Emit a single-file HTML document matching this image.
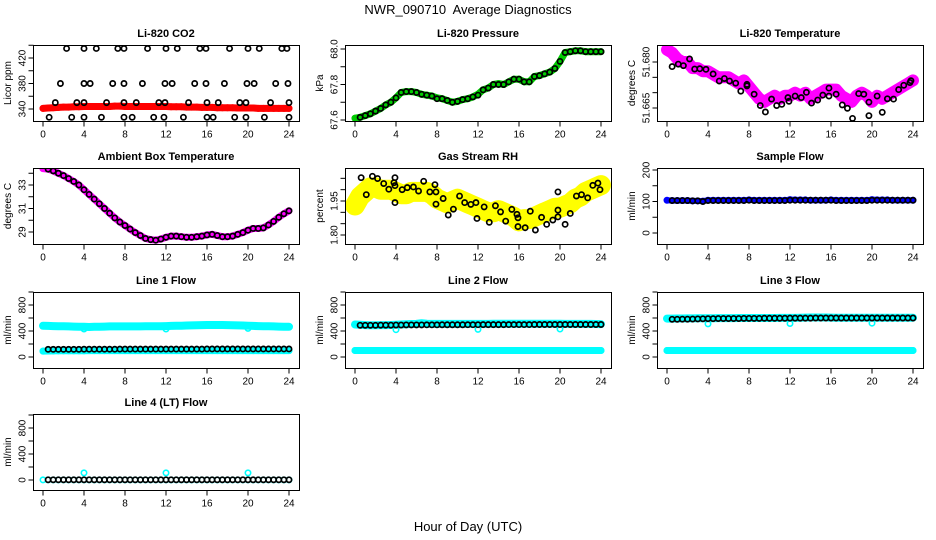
<!DOCTYPE html>
<html><head><meta charset="utf-8"><style>
html,body{margin:0;padding:0;background:#fff;}
svg{display:block;font-family:"Liberation Sans",sans-serif;}
</style></head><body>
<svg id="chart" width="936" height="540" viewBox="0 0 936 540">
<text x="468" y="14" text-anchor="middle" font-size="13" xml:space="preserve">NWR_090710  Average Diagnostics</text>
<text x="468" y="531" text-anchor="middle" font-size="13">Hour of Day (UTC)</text>
</svg>
<script>
const hoursC = [0,0.5,1,1.5,2,2.5,3,3.5,4,4.5,5,5.5,6,6.5,7,7.5,8,8.5,9,9.5,10,10.5,11,11.5,12,12.5,13,13.5,14,14.5,15,15.5,16,16.5,17,17.5,18,18.5,19,19.5,20,20.5,21,21.5,22,22.5,23,23.5,24];
const hoursB = [0.5,1,1.5,2,2.5,3,3.5,4,4.5,5,5.5,6,6.5,7,7.5,8,8.5,9,9.5,10,10.5,11,11.5,12,12.5,13,13.5,14,14.5,15,15.5,16,16.5,17,17.5,18,18.5,19,19.5,20,20.5,21,21.5,22,22.5,23,23.5,24];
const dipHours = [4,12,20];
const xTicks = [0,4,8,12,16,20,24];

const co2Red = [341,341.5,342,342.5,343,343,343.5,343.5,344,344,344,344,344,344,344.5,344.5,344,344,344,344,344,344,344,344,344,343.5,343.5,343.5,343,343,343,342.5,342.5,342.5,342,342,342,342,341.5,341.5,341.5,341.5,341,341,341,341,341,341,341];
const co2BlackHours = [2.3,4,5.2,7.3,7.9,10.2,12,13.1,15.3,15.9,18.2,20,21.1,23.3,23.8,1.7,4,4.6,6.8,7.9,9.7,11.9,12.6,14.8,15.9,17.7,19.9,20.6,22.7,23.9,1.2,3.3,4,6.2,7.9,9.1,11.3,11.9,14.2,16,17.1,19.2,19.8,22.2,24,0.6,2.8,4,5.7,7.9,8.7,10.8,11.8,13.7,16,16.6,18.7,19.8,21.6,24];
const co2BlackValues = [435,435,435,435,435,435,435,435,435,435,435,435,435,435,435,380,380,380,380,380,380,380,380,380,380,380,380,380,380,380,350,350,350,350,350,350,350,350,350,350,350,350,350,350,350,327,327,327,327,327,327,327,327,327,327,327,327,327,327,327];

const presGreen = [67.61,67.615,67.625,67.635,67.65,67.665,67.685,67.70,67.725,67.755,67.76,67.76,67.755,67.745,67.74,67.735,67.725,67.72,67.71,67.70,67.705,67.715,67.72,67.73,67.745,67.77,67.78,67.80,67.805,67.80,67.815,67.83,67.83,67.815,67.815,67.845,67.85,67.86,67.87,67.89,67.93,67.98,67.985,67.99,67.99,67.985,67.985,67.985,67.985];
const presBlack = [67.615,67.625,67.635,67.65,67.665,67.685,67.70,67.725,67.755,67.76,67.76,67.755,67.745,67.74,67.735,67.72,67.72,67.71,67.70,67.705,67.715,67.72,67.73,67.74,67.77,67.78,67.80,67.80,67.80,67.815,67.83,67.83,67.815,67.815,67.845,67.85,67.86,67.87,67.89,67.93,67.98,67.985,67.99,67.99,67.985,67.985,67.985,67.985];

const tempMag = [51.684,51.683,51.681,51.680,51.680,51.678,51.678,51.677,51.677,51.676,51.675,51.675,51.675,51.674,51.673,51.674,51.672,51.670,51.668,51.667,51.668,51.669,51.668,51.669,51.669,51.670,51.669,51.670,51.668,51.669,51.670,51.671,51.671,51.671,51.669,51.668,51.667,51.669,51.670,51.669,51.667,51.669,51.668,51.669,51.670,51.671,51.672,51.673,51.674];
const tempBlackHours = [0.5,1.1,1.6,2.2,2.7,3.2,3.8,4.5,5.1,5.6,6.1,6.7,7.2,7.8,7.8,8.5,9.1,9.6,10.2,10.7,11.2,11.8,11.9,12.5,13.1,13.6,14.1,14.7,15.2,15.8,15.8,16.5,17.1,17.6,18.1,18.7,19.2,19.7,19.7,20.5,21,21.5,22.1,22.6,23.1,23.7,23.8];
const tempBlackValues = [51.6785,51.6793,51.6788,51.681,51.6777,51.6778,51.6776,51.6761,51.6738,51.6746,51.6738,51.6731,51.6705,51.6727,51.6722,51.6695,51.6658,51.6637,51.6679,51.6658,51.6662,51.6684,51.6672,51.6689,51.6684,51.6701,51.6666,51.6676,51.6692,51.6689,51.6715,51.6695,51.6660,51.6649,51.6616,51.6697,51.6695,51.6669,51.6625,51.6689,51.6636,51.6680,51.6679,51.6710,51.6724,51.6733,51.6739];

const ambMag = [34.4,34.35,34.2,34.0,33.8,33.55,33.3,33.0,32.6,32.2,31.8,31.4,31.0,30.6,30.2,29.85,29.55,29.25,28.95,28.7,28.45,28.35,28.3,28.4,28.55,28.65,28.65,28.6,28.55,28.55,28.6,28.65,28.75,28.8,28.7,28.6,28.6,28.65,28.8,28.95,29.15,29.3,29.3,29.35,29.6,29.9,30.25,30.55,30.8];
const ambBlack = [34.35,34.2,34.0,33.8,33.55,33.3,33.0,32.6,32.2,31.8,31.4,31.0,30.6,30.2,29.85,29.55,29.25,28.95,28.7,28.45,28.35,28.3,28.4,28.55,28.65,28.65,28.6,28.55,28.55,28.6,28.65,28.75,28.8,28.7,28.6,28.6,28.65,28.8,28.95,29.15,29.3,29.3,29.35,29.6,29.9,30.25,30.55,30.8];

const rhYellow = [1.93,1.97,1.99,2.01,2.01,2.0,2.0,2.0,1.99,1.98,1.98,1.99,1.99,1.99,1.99,1.98,1.96,1.95,1.94,1.95,1.96,1.95,1.94,1.93,1.92,1.91,1.90,1.90,1.91,1.90,1.89,1.88,1.86,1.87,1.87,1.88,1.89,1.90,1.91,1.92,1.92,1.93,1.94,1.96,1.97,1.99,2.0,2.01,2.02];
const rhBlackHours = [0.6,1.1,1.7,2.2,2.8,3.3,3.8,3.9,3.9,3.9,4.6,5.1,5.7,6.2,6.7,7.3,7.8,7.9,7.9,8.6,9.1,9.6,10.2,10.7,11.3,11.8,11.9,12.6,13.1,13.7,14.2,14.7,15.3,15.8,15.9,15.9,16.6,17.1,17.6,18.2,18.7,19.3,19.8,19.8,19.8,20.5,21,21.6,22.1,22.7,23.2,23.7,23.9];
const rhBlackValues = [2.053,1.978,2.059,2.049,2.027,2.002,2.031,1.943,2.053,2.018,2.000,2.009,2.012,1.994,2.037,1.990,2.022,1.936,1.990,1.961,1.888,1.914,1.972,1.943,1.935,1.943,1.873,1.924,1.856,1.929,1.902,1.861,1.913,1.891,1.876,1.837,1.832,1.905,1.822,1.878,1.847,1.866,1.990,1.910,1.880,1.847,1.895,1.972,1.978,1.964,2.019,2.029,2.000];

const sampleBlue = [104,103,103,103,103,102,102,101,104,104,104,104,104,104,104,104,105,104,104,104,104,104,104,104,106,105,105,105,104,104,104,104,105,104,104,104,104,104,104,104,106,105,105,105,104,104,104,104,104];
const sampleBlack = [103,103,103,103,102,102,100,103,103,103,103,103,103,103,103,104,103,103,103,103,103,103,103,104,104,104,104,104,104,104,104,104,103,103,103,103,103,103,103,104,104,104,104,104,104,104,104,104];

const line1High = [480,478,476,474,472,470,468,466,464,462,464,466,468,470,470,470,470,470,470,470,472,472,472,474,476,478,480,482,484,486,488,490,492,492,492,492,490,488,486,484,482,478,476,474,472,470,468,466,464];
const line1DipValues = [430,430,440];
const line1Low = [90,92,94,95,96,96,96,96,96,98,98,98,98,98,98,98,98,98,98,98,98,98,98,98,98,98,98,98,98,98,98,98,98,98,98,98,98,98,98,98,98,98,98,98,98,98,98,98,98];
const line1Black = [118,118,118,118,118,118,118,120,120,120,120,120,120,120,122,122,122,122,122,122,122,122,122,122,122,122,122,122,122,122,122,124,124,124,124,124,124,124,124,124,124,124,124,124,124,124,124,124];
const line2High = [500,495,490,488,488,490,490,492,495,500,505,508,510,520,512,510,510,510,510,510,510,510,510,510,510,510,510,512,512,512,512,512,512,512,512,512,512,512,512,512,512,510,510,510,510,510,510,508,506];
const line2DipValues = [420,425,430];
const line2Low = [100,100,100,100,100,100,100,100,100,100,100,100,100,100,100,100,100,100,100,100,100,100,100,100,100,100,100,100,100,100,100,100,100,100,100,100,100,100,100,100,100,100,100,100,100,100,100,100,100];
const line2Black = [488,488,488,488,490,490,490,492,492,494,494,494,494,495,495,495,496,496,496,496,496,497,497,497,498,498,498,498,498,499,499,499,499,499,500,500,500,500,500,500,500,500,500,500,500,500,500,500];
const line3High = [590,590,592,592,594,594,596,596,596,596,598,598,598,598,600,600,600,600,600,600,600,600,602,602,602,602,604,606,608,608,608,608,606,604,604,604,604,604,604,604,604,604,604,604,604,604,604,604,604];
const line3DipValues = [510,515,520];
const line3Low = [100,100,100,100,100,100,100,100,100,100,100,100,100,100,100,100,100,100,100,100,100,100,100,100,100,100,100,100,100,100,100,100,100,100,100,100,100,100,100,100,100,100,100,100,100,100,100,100,100];
const line3Black = [580,580,582,582,584,586,588,590,590,592,592,592,592,592,594,594,594,594,596,596,596,596,596,598,598,598,598,598,600,600,600,600,600,600,600,600,600,600,600,600,600,600,600,600,600,600,600,600];
const line4Cyan = [2,2,2,2,2,2,2,2,2,2,2,2,2,2,2,2,2,2,2,2,2,2,2,2,2,2,2,2,2,2,2,2,2,2,2,2,2,2,2,2,2,2,2,2,2,2,2,2,2];
const line4DipValues = [110,110,110];
const line4Black = [3,3,3,3,3,3,3,3,3,3,3,3,3,3,3,3,3,3,3,3,3,3,3,3,3,3,3,3,3,3,3,3,3,3,3,3,3,3,3,3,3,3,3,3,3,3,3,3];

const co2Ticks = [340,360,380,400,420,440], co2Labels = ["340","","380","","420",""];
const presTicks = [67.6,67.7,67.8,67.9,68.0], presLabels = ["67.6","","67.8","","68.0"];
const tempTicks = [51.665,51.670,51.675,51.680], tempLabels = ["51.665","","","51.680"];
const ambTicks = [29,30,31,32,33,34], ambLabels = ["29","","31","","33",""];
const rhTicks = [1.80,1.85,1.90,1.95,2.00,2.05], rhLabels = ["1.80","","","1.95","",""];
const sampleTicks = [0,50,100,150,200], sampleLabels = ["0","","100","","200"];
const flowTicks = [0,200,400,600,800,1000], flowLabels = ["0","","400","","800",""];

const NS = "http://www.w3.org/2000/svg";
const svg = document.getElementById('chart');
const colLeft = [33,345,657];
const rowTop = [45,168,292,414];
const BOXW = 266, BOXH = 76;

function mk(tag, attrs, parent){
  const e = document.createElementNS(NS, tag);
  for (const k in attrs) e.setAttribute(k, attrs[k]);
  (parent||svg).appendChild(e);
  return e;
}

function panel(cfg){
  const L = colLeft[cfg.col], T = rowTop[cfg.row];
  const g = mk('g', {});
  
  
  const xs = h => L + 10 + h * (246/24);
  const ys = v => T + cfg.p1 + (v - cfg.v1) * (cfg.p2 - cfg.p1) / (cfg.v2 - cfg.v1);
  const clip = 'clip-' + cfg.name;
  const cp = mk('clipPath', {id: clip}, g);
  mk('rect', {x: L, y: T, width: BOXW, height: BOXH}, cp);
  const plotG = mk('g', {'clip-path': 'url(#' + clip + ')'}, g);
  
  
  (cfg.colored || []).forEach((s, si) => {
    if (s.w > 0) {
      const pts = s.v.map((v, i) => xs(s.h[i]).toFixed(1) + ',' + ys(v).toFixed(1)).join(' ');
      const band = mk('polyline', {points: pts, fill: 'none', stroke: s.color, 'stroke-width': s.w, 'stroke-linejoin': 'round', 'stroke-linecap': 'round'}, plotG);
      
      
    }
    s.v.forEach((v, i) => {
      const c = mk('circle', {cx: xs(s.h[i]), cy: ys(v), r: 2.7, fill: 'none', stroke: s.color, 'stroke-width': 1.6}, plotG);
      
      
    });
  });
  cfg.black.v.forEach((v, i) => {
    const c = mk('circle', {cx: xs(cfg.black.h[i]), cy: ys(v), r: 2.6, fill: 'none', stroke: '#000', 'stroke-width': 1.7}, plotG);
    
    
  });
  const frame = mk('rect', {x: L + 0.5, y: T + 0.5, width: BOXW, height: BOXH, fill: 'none', stroke: '#000', 'stroke-width': 1}, g);
  
  
  const t = mk('text', {x: L + BOXW/2, y: T - 8, 'text-anchor': 'middle', 'font-size': 11, 'font-weight': 'bold'}, g);
  t.textContent = cfg.title;
  
  
  const bx = T + BOXH + 0.5;
  xTicks.forEach(h => {
    mk('line', {x1: xs(h), x2: xs(h), y1: bx, y2: bx + 5, stroke: '#000'}, g);
    const tl = mk('text', {x: xs(h), y: bx + 16, 'text-anchor': 'middle', 'font-size': 10}, g);
    tl.textContent = h;
    
    
  });
  mk('line', {x1: xs(0), x2: xs(24), y1: bx, y2: bx, stroke: '#000'}, g);
  const lx = L + 0.5;
  cfg.ticks.forEach((v, i) => {
    const y = ys(v);
    mk('line', {x1: lx - 5, x2: lx, y1: y, y2: y, stroke: '#000'}, g);
    if (cfg.labels[i]) {
      const yl = mk('text', {x: lx - 8, y: y, 'text-anchor': 'middle', 'font-size': 10, transform: 'rotate(-90 ' + (lx - 8) + ' ' + y + ')'}, g);
      yl.textContent = cfg.labels[i];
      
      
    }
  });
  const yt = mk('text', {x: L - 22, y: T + BOXH/2, 'text-anchor': 'middle', 'font-size': 10, transform: 'rotate(-90 ' + (L - 22) + ' ' + (T + BOXH/2) + ')'}, g);
  yt.textContent = cfg.ylab;
  
  
}

panel({name:'co2', col:0, row:0, title:'Li-820 CO2', ylab:'Licor ppm', v1:340, p1:64, v2:420, p2:13, ticks:co2Ticks, labels:co2Labels,
  colored:[{h:hoursC, v:co2Red, color:'#ff0000', w:7}], black:{h:co2BlackHours, v:co2BlackValues}});
panel({name:'pressure', col:1, row:0, title:'Li-820 Pressure', ylab:'kPa', v1:68.0, p1:4, v2:67.6, p2:75, ticks:presTicks, labels:presLabels,
  colored:[{h:hoursC, v:presGreen, color:'#00cc00', w:7}], black:{h:hoursB, v:presBlack}});
panel({name:'li820-temp', col:2, row:0, title:'Li-820 Temperature', ylab:'degrees C', v1:51.665, p1:63, v2:51.680, p2:17, ticks:tempTicks, labels:tempLabels,
  colored:[{h:hoursC, v:tempMag, color:'#ff00ff', w:12}], black:{h:tempBlackHours, v:tempBlackValues}});
panel({name:'ambient-temp', col:0, row:1, title:'Ambient Box Temperature', ylab:'degrees C', v1:33, p1:17, v2:29, p2:64, ticks:ambTicks, labels:ambLabels,
  colored:[{h:hoursC, v:ambMag, color:'#ff00ff', w:7}], black:{h:hoursB, v:ambBlack}});
panel({name:'gas-rh', col:1, row:1, title:'Gas Stream RH', ylab:'percent', v1:1.80, p1:67, v2:1.95, p2:33, ticks:rhTicks, labels:rhLabels,
  colored:[{h:hoursC, v:rhYellow, color:'#ffff00', w:20}], black:{h:rhBlackHours, v:rhBlackValues}});
panel({name:'sample-flow', col:2, row:1, title:'Sample Flow', ylab:'ml/min', v1:0, p1:65, v2:200, p2:2, ticks:sampleTicks, labels:sampleLabels,
  colored:[{h:hoursC, v:sampleBlue, color:'#0000ff', w:6}], black:{h:hoursB, v:sampleBlack}});
panel({name:'line1-flow', col:0, row:2, title:'Line 1 Flow', ylab:'ml/min', v1:0, p1:65, v2:400, p2:39, ticks:flowTicks, labels:flowLabels,
  colored:[{h:hoursC, v:line1High, color:'#00ffff', w:8},{h:dipHours, v:line1DipValues, color:'#00ffff', w:0},{h:hoursC, v:line1Low, color:'#00ffff', w:7}], black:{h:hoursB, v:line1Black}});
panel({name:'line2-flow', col:1, row:2, title:'Line 2 Flow', ylab:'ml/min', v1:0, p1:65, v2:400, p2:39, ticks:flowTicks, labels:flowLabels,
  colored:[{h:hoursC, v:line2High, color:'#00ffff', w:8},{h:dipHours, v:line2DipValues, color:'#00ffff', w:0},{h:hoursC, v:line2Low, color:'#00ffff', w:7}], black:{h:hoursB, v:line2Black}});
panel({name:'line3-flow', col:2, row:2, title:'Line 3 Flow', ylab:'ml/min', v1:0, p1:65, v2:400, p2:39, ticks:flowTicks, labels:flowLabels,
  colored:[{h:hoursC, v:line3High, color:'#00ffff', w:8},{h:dipHours, v:line3DipValues, color:'#00ffff', w:0},{h:hoursC, v:line3Low, color:'#00ffff', w:7}], black:{h:hoursB, v:line3Black}});
panel({name:'line4-flow', col:0, row:3, title:'Line 4 (LT) Flow', ylab:'ml/min', v1:0, p1:66, v2:400, p2:40, ticks:flowTicks, labels:flowLabels,
  colored:[{h:hoursC, v:line4Cyan, color:'#00ffff', w:0},{h:dipHours, v:line4DipValues, color:'#00ffff', w:0}], black:{h:hoursB, v:line4Black}});
</script>
</body></html>
